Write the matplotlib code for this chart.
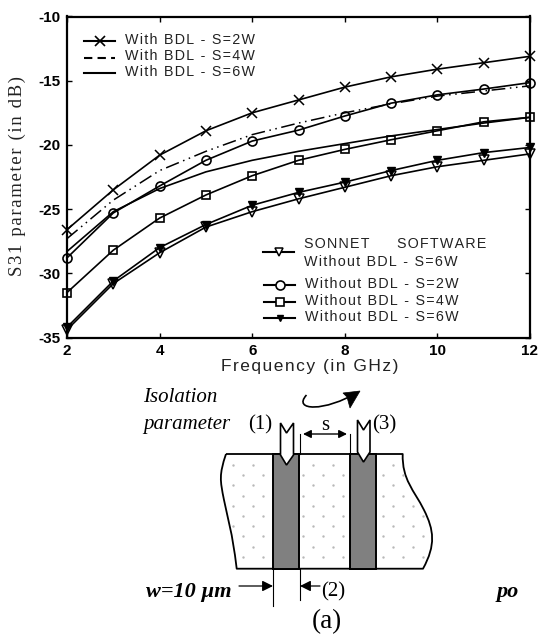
import numpy as np
import matplotlib
matplotlib.use("Agg")
import matplotlib.pyplot as plt
from matplotlib.path import Path
from matplotlib.patches import PathPatch, Polygon, Rectangle

plt.rcParams['axes.unicode_minus'] = False

freq = [2, 3, 4, 5, 6, 7, 8, 9, 10, 11, 12]

with_s2 = [-26.6, -23.5, -20.8, -18.9, -17.5, -16.5, -15.5, -14.7, -14.1, -13.6, -13.1]
with_s4 = [-27.3, -24.3, -22.0, -20.5, -19.2, -18.3, -17.5, -16.8, -16.2, -15.8, -15.4]
with_s6 = [-28.3, -25.2, -23.4, -22.1, -21.2, -20.5, -19.9, -19.3, -18.8, -18.3, -17.85]
without_s2 = [-28.8, -25.3, -23.2, -21.2, -19.7, -18.85, -17.75, -16.75, -16.1, -15.65, -15.15]
without_s4 = [-31.5, -28.2, -25.7, -23.9, -22.4, -21.2, -20.35, -19.6, -18.9, -18.2, -17.85]
without_s6 = [-34.2, -30.6, -28.0, -26.2, -24.7, -23.7, -22.9, -22.0, -21.2, -20.6, -20.2]
sonnet_s6 = [-34.4, -30.8, -28.4, -26.4, -25.2, -24.2, -23.3, -22.4, -21.7, -21.2, -20.7]

x_ticks = [2, 4, 6, 8, 10, 12]
y_ticks = [-10, -15, -20, -25, -30, -35]

W, H = 542, 635
SANS = ['Liberation Sans', 'DejaVu Sans']
SERIF = ['Liberation Serif', 'DejaVu Serif']
TEXT_GREY = '#222222'


def spaced(s):
    # the original has wide letter spacing, hair spaces get close to it
    return '\u200a'.join(s)


def legend_line(axis, x0, x1, y, **style):
    # marker only in the middle of the sample line
    axis.plot([x0, (x0 + x1) / 2, x1], [y, y, y], color='k', lw=1.5, markevery=[1], **style)


fig = plt.figure(figsize=(W / 100, H / 100), dpi=100)
ax = fig.add_axes([67 / W, 1 - 337.5 / H, 463 / W, 321 / H])

ax.plot(freq, with_s2, color='k', lw=1.2, marker='x', ms=7, mew=1.1, clip_on=False)
ax.plot(freq, with_s4, color='k', lw=1.1, ls=(0, (9, 3, 1, 3, 1, 3)), clip_on=False)
ax.plot(freq, with_s6, color='k', lw=1.2, clip_on=False)
ax.plot(freq, without_s2, color='k', lw=1.2, marker='o', ms=6.5, mfc='none', mew=1.2, clip_on=False)
ax.plot(freq, without_s4, color='k', lw=1.2, marker='s', ms=6, mfc='none', mew=1.2, clip_on=False)
ax.plot(freq, without_s6, color='k', lw=1.2, marker='v', ms=6, clip_on=False)
ax.plot(freq, sonnet_s6, color='k', lw=1.2, marker='v', ms=6.5, mfc='none', mew=1.1, clip_on=False)

ax.set_xlim(2, 12)
ax.set_ylim(-35, -10)
ax.set_xticks(x_ticks)
ax.set_yticks(y_ticks)
ax.tick_params(direction='in', top=True, right=True, length=3.5, width=1, pad=5)
for lab in ax.get_xticklabels() + ax.get_yticklabels():
    lab.set_family(SANS)
    lab.set_fontweight('bold')
    lab.set_fontsize(11)
for side in ax.spines:
    ax.spines[side].set_linewidth(1.6)

# everything else is placed in picture pixels on a full figure overlay
ov = fig.add_axes([0, 0, 1, 1], facecolor='none')
ov.set_xlim(0, W)
ov.set_ylim(H, 0)
ov.axis('off')

ov.text(17, 176, spaced('S31 parameter (in dB)'), rotation=90, family=SERIF, fontsize=13.5,
        color=TEXT_GREY, ha='center', va='center')
ov.text(310, 367, spaced('Frequency (in GHz)'), family=SANS, fontsize=12.5,
        color=TEXT_GREY, ha='center', va='center')

# legends
top_rows = [(41, 'With BDL - S=2W', dict(marker='x', ms=7, mew=1.2)),
            (57.5, 'With BDL - S=4W', dict(ls=(0, (4, 2.5)))),
            (73, 'With BDL - S=6W', dict())]
for y, label, style in top_rows:
    legend_line(ov, 84, 115, y, **style)
    ov.text(125, y - 1, spaced(label), family=SANS, fontsize=10.3, color=TEXT_GREY, va='center')

bottom_rows = [(285, 'Without BDL - S=2W', dict(marker='o', ms=6.5, mfc='white', mew=1.2)),
               (302, 'Without BDL - S=4W', dict(marker='s', ms=5.5, mfc='white', mew=1.2)),
               (318, 'Without BDL - S=6W', dict(marker='v', ms=5))]
legend_line(ov, 263, 294, 252, marker='v', ms=6, mfc='white', mew=1.1)
ov.text(304, 244, spaced('SONNET     SOFTWARE'), family=SANS, fontsize=10.3, color=TEXT_GREY, va='center')
ov.text(304, 262, spaced('Without BDL - S=6W'), family=SANS, fontsize=10.3, color=TEXT_GREY, va='center')
for y, label, style in bottom_rows:
    legend_line(ov, 264, 295, y, **style)
    ov.text(305, y - 1, spaced(label), family=SANS, fontsize=10.3, color=TEXT_GREY, va='center')

# schematic
outline = Path([(226, 454), (402.7, 454),
                (402, 480), (414, 490), (424, 510),
                (434, 530), (436, 545), (423, 568.7),
                (236.7, 568.7),
                (232, 530), (228, 520), (224, 500),
                (220, 480), (219, 475), (226, 454)],
               [Path.MOVETO, Path.LINETO,
                Path.CURVE4, Path.CURVE4, Path.CURVE4,
                Path.CURVE4, Path.CURVE4, Path.CURVE4,
                Path.LINETO,
                Path.CURVE4, Path.CURVE4, Path.CURVE4,
                Path.CURVE4, Path.CURVE4, Path.CURVE4])
ov.add_patch(PathPatch(outline, facecolor='white', edgecolor='k', lw=1.3, joinstyle='round'))

gx, gy = np.meshgrid(np.arange(233.3, 432, 20), np.arange(465, 566, 10.2))
shift = (np.round((gy - 465) / 10.2).astype(int) % 2) * 10
dots = np.column_stack([(gx + shift).ravel(), gy.ravel()])
dots = dots[outline.contains_points(dots)]
ov.scatter(dots[:, 0], dots[:, 1], s=3, color='#b8b8b8', linewidths=0, marker='o')

for x0, x1 in [(272.7, 299), (350, 376)]:
    ov.add_patch(Rectangle((x0, 454), x1 - x0, 114.7, facecolor='#808080', edgecolor='k', lw=1.4))

ov.add_patch(Polygon([(280.5, 423), (286.5, 433), (293.5, 423), (293.5, 455), (286.5, 465), (280.5, 455)],
                     facecolor='white', edgecolor='k', lw=1.2, zorder=5))
ov.add_patch(Polygon([(357.5, 420), (363.5, 430), (370, 420), (370, 452), (363.5, 462), (357.5, 452)],
                     facecolor='white', edgecolor='k', lw=1.2, zorder=5))

ov.plot([299.5, 299.5], [434, 454], color='k', lw=0.8)
ov.plot([350, 350], [434, 454], color='k', lw=0.8)
ov.annotate('', xy=(303, 434), xytext=(347, 434),
            arrowprops=dict(arrowstyle='<|-|>', color='k', lw=1, mutation_scale=12, shrinkA=0, shrinkB=0))

curve = Path([(306.5, 395), (292, 411), (325, 412), (358, 392)],
             [Path.MOVETO, Path.CURVE4, Path.CURVE4, Path.CURVE4])
ov.add_patch(PathPatch(curve, facecolor='none', edgecolor='k', lw=1.2))
ov.add_patch(Polygon([(360, 391), (343, 393), (347, 397), (350, 408)], facecolor='k', edgecolor='k', lw=0.5))

ov.plot([273, 273], [569, 606], color='k', lw=0.8)
ov.plot([299.5, 299.5], [569, 600], color='k', lw=0.8)
ov.annotate('', xy=(273, 586), xytext=(239, 586),
            arrowprops=dict(arrowstyle='-|>', color='k', lw=0.9, mutation_scale=16, shrinkA=0, shrinkB=0))
ov.annotate('', xy=(300, 586), xytext=(320, 586),
            arrowprops=dict(arrowstyle='-|>', color='k', lw=0.9, mutation_scale=16, shrinkA=0, shrinkB=0))

ov.text(143, 398, 'Isolation', family=SERIF, style='italic', fontsize=15, va='center')
ov.text(143, 425, 'parameter', family=SERIF, style='italic', fontsize=15, va='center')
ov.text(248, 425, '(1)', family=SERIF, fontsize=15, va='center')
ov.text(372, 425, '(3)', family=SERIF, fontsize=15, va='center')
ov.text(325, 425, 's', family=SERIF, fontsize=15, ha='center', va='center')
ov.text(321, 592, '(2)', family=SERIF, fontsize=15, va='center')
ov.text(146, 592, 'w=10 µm', family=SERIF, style='italic', fontweight='bold', fontsize=16, va='center')
ov.text(497, 592, 'po', family=SERIF, style='italic', fontweight='bold', fontsize=16, va='center')
ov.text(327, 622, '(a)', family=SERIF, fontsize=19.5, ha='center', va='center')

fig.savefig('out.png', dpi=100)
